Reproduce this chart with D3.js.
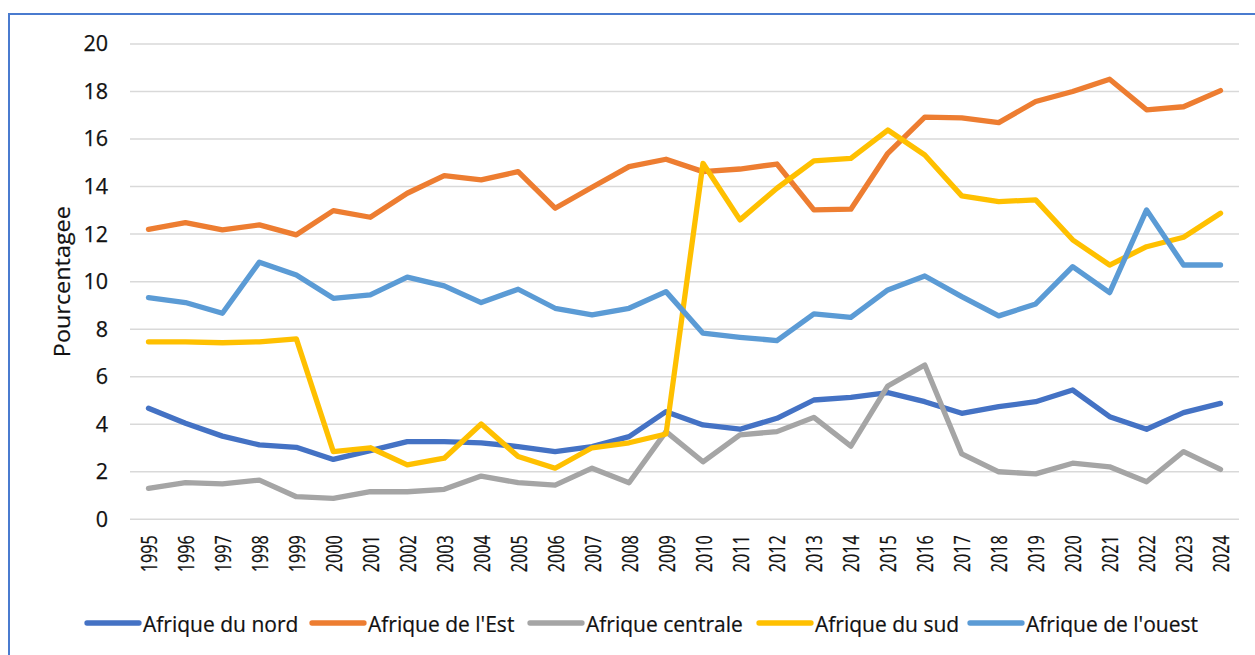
<!DOCTYPE html>
<html>
<head>
<meta charset="utf-8">
<script src="https://cdn.jsdelivr.net/npm/d3@7"></script>
<style>
  html, body { margin: 0; padding: 0; background: #fff; }
  svg { display: block; font-family: 'Open Sans', sans-serif; }
</style>
</head>
<body>
<svg id="chart" width="1255" height="655"></svg>
<script>
const years = ["1995","1996","1997","1998","1999","2000","2001","2002","2003","2004","2005","2006","2007","2008","2009","2010","2011","2012","2013","2014","2015","2016","2017","2018","2019","2020","2021","2022","2023","2024"];
const seriesNames = ["Afrique du nord", "Afrique de l'Est", "Afrique centrale", "Afrique du sud", "Afrique de l'ouest"];
const afriqueNord = [4.67,4.04,3.5,3.13,3.03,2.52,2.89,3.27,3.27,3.22,3.06,2.85,3.06,3.48,4.53,3.97,3.79,4.25,5.02,5.13,5.33,4.95,4.46,4.74,4.95,5.44,4.32,3.79,4.49,4.88];
const afriqueEst = [12.2,12.48,12.18,12.39,11.97,12.99,12.71,13.72,14.46,14.28,14.63,13.09,13.97,14.84,15.15,14.63,14.74,14.95,13.02,13.05,15.4,16.92,16.89,16.69,17.58,18.0,18.52,17.23,17.36,18.04];
const afriqueCentrale = [1.3,1.54,1.49,1.65,0.95,0.88,1.16,1.16,1.26,1.82,1.54,1.44,2.15,1.54,3.69,2.42,3.55,3.69,4.29,3.08,5.61,6.49,2.75,2.0,1.91,2.36,2.21,1.58,2.85,2.1];
const afriqueSud = [7.47,7.47,7.43,7.47,7.59,2.85,3.01,2.29,2.57,4.01,2.64,2.15,3.01,3.22,3.59,14.98,12.6,13.93,15.08,15.19,16.38,15.33,13.61,13.37,13.44,11.76,10.7,11.47,11.87,12.88];
const afriqueOuest = [9.33,9.12,8.67,10.82,10.28,9.3,9.44,10.19,9.82,9.12,9.68,8.88,8.6,8.88,9.58,7.83,7.66,7.52,8.64,8.5,9.65,10.24,9.37,8.56,9.06,10.63,9.54,13.02,10.7,10.7];
const yTicks = [0,2,4,6,8,10,12,14,16,18,20];
const yTitle = "Pourcentagee";
const colors = ["#4472C4", "#ED7D31", "#A5A5A5", "#FFC000", "#5B9BD5"];

const seriesValues = [afriqueNord, afriqueEst, afriqueCentrale, afriqueSud, afriqueOuest];
const series = seriesNames.map((name, i) => ({ name, values: seriesValues[i], color: colors[i] }));

const svg = d3.select("#chart");

// outer border
svg.append("rect")
  .attr("x", 9).attr("y", 14)
  .attr("width", 1300).attr("height", 700)
  .attr("fill", "none")
  .attr("stroke", "#4A7BCF")
  .attr("stroke-width", 2);

const plotLeft = 130, plotRight = 1239, plotTop = 44, plotBottom = 519.3;

const x = d3.scaleBand().domain(years).range([plotLeft, plotRight]).paddingInner(0).paddingOuter(0);
const y = d3.scaleLinear().domain([0, 20]).range([plotBottom, plotTop]);

// gridlines
svg.append("g")
  .selectAll("line")
  .data(yTicks)
  .join("line")
  .attr("x1", plotLeft).attr("x2", plotRight)
  .attr("y1", d => y(d)).attr("y2", d => y(d))
  .attr("stroke", "#D9D9D9")
  .attr("stroke-width", 1.5);

// y axis
const yAxis = svg.append("g")
  .attr("transform", `translate(${plotLeft},0)`)
  .call(d3.axisLeft(y).tickValues(yTicks).tickSize(0).tickPadding(22));
yAxis.select(".domain").remove();
yAxis.selectAll("text")
  .attr("font-family", "'Open Sans', sans-serif")
  .attr("font-size", 21.5)
  .attr("fill", "#111")
  .attr("stroke", "#111")
  .attr("stroke-width", 0.25);

// x axis
const xAxis = svg.append("g")
  .attr("transform", `translate(0,${plotBottom})`)
  .call(d3.axisBottom(x).tickSize(0));
xAxis.select(".domain").remove();
xAxis.selectAll("text")
  .attr("font-family", "'Open Sans', sans-serif")
  .attr("font-size", 22.5)
  .attr("fill", "#111")
  .attr("stroke", "#111")
  .attr("stroke-width", 0.25)
  .attr("text-anchor", "end")
  .attr("transform", "rotate(-90)")
  .attr("x", -16)
  .attr("y", 0)
  .attr("dy", "0.38em")
  .attr("textLength", 37)
  .attr("lengthAdjust", "spacingAndGlyphs");

// y title
svg.append("text")
  .attr("transform", `translate(70,${(plotTop + plotBottom) / 2}) rotate(-90)`)
  .attr("text-anchor", "middle")
  .attr("font-size", 21.5)
  .attr("fill", "#111")
  .attr("stroke", "#111")
  .attr("stroke-width", 0.2)
  .attr("textLength", 151)
  .attr("lengthAdjust", "spacingAndGlyphs")
  .text(yTitle);

// lines
const line = d3.line()
  .x((d, i) => x(years[i]) + x.bandwidth() / 2)
  .y(d => y(d));

svg.append("g")
  .selectAll("path")
  .data(series)
  .join("path")
  .attr("d", d => line(d.values))
  .attr("fill", "none")
  .attr("stroke", d => d.color)
  .attr("stroke-width", 5.3)
  .attr("stroke-linejoin", "round")
  .attr("stroke-linecap", "round");

// legend
const legendX = [85, 310, 528, 757, 968];
const legend = svg.append("g")
  .selectAll("g")
  .data(series)
  .join("g")
  .attr("transform", (d, i) => `translate(${legendX[i]},623)`);
legend.append("line")
  .attr("x1", 2).attr("x2", 54)
  .attr("y1", 0).attr("y2", 0)
  .attr("stroke", d => d.color)
  .attr("stroke-width", 5.3)
  .attr("stroke-linecap", "round");
legend.append("text")
  .attr("x", 58)
  .attr("y", 8.5)
  .attr("font-size", 21)
  .attr("fill", "#111")
  .attr("stroke", "#111")
  .attr("stroke-width", 0.2)
  .text(d => d.name);
</script>
</body>
</html>
